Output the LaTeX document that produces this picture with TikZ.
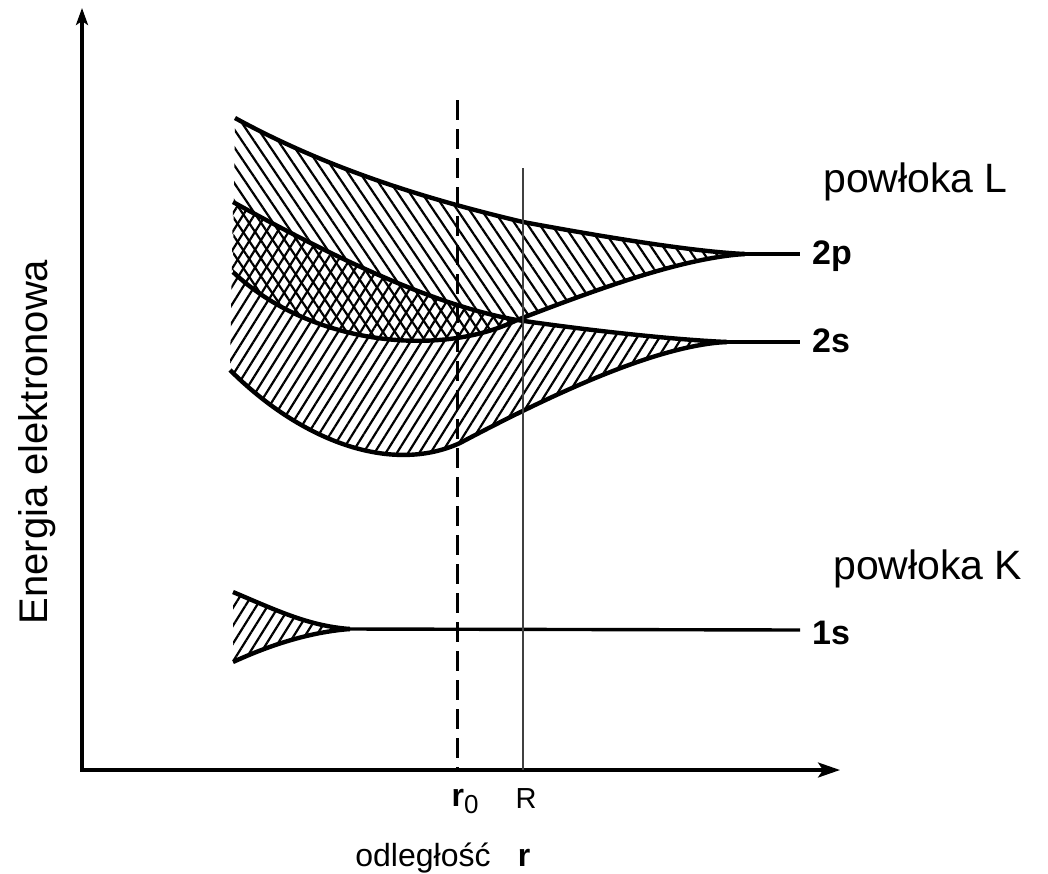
\documentclass[tikz,border=0pt]{standalone}
\usepackage{fontspec}
\setmainfont{Liberation Sans}
\usetikzlibrary{arrows.meta, patterns.meta}

\begin{document}
\begin{tikzpicture}[
  x=1pt, y=-1pt,
  axis/.style     = {line width=3.2pt, black},
  band/.style     = {line width=4.4pt, black, line join=round},
  orbline/.style  = {line width=3.4pt, black},
  hatchdown/.style= {pattern={Lines[angle=-56, distance=10pt, line width=2.2pt]}},
  hatchup/.style  = {pattern={Lines[angle=58, distance=9.5pt, line width=2.2pt]}},
  rzline/.style   = {line width=3pt, dash pattern=on 20pt off 9pt},
  rline/.style    = {line width=1.5pt, black!75},
  lbl/.style      = {font=\fontsize{41}{44}\selectfont, inner sep=0pt},
  orb/.style      = {font=\fontsize{34}{36}\selectfont\bfseries, inner sep=0pt},
  tick/.style     = {font=\fontsize{32}{34}\selectfont, inner sep=0pt}
]
\useasboundingbox (0,0) rectangle (1048,873);

% ── Axes ─────────────────────────────────────────────────────────────────────
\coordinate (O)    at (82,770);
\coordinate (ytip) at (82,8);
\coordinate (xtip) at (840,770);
\draw[axis, {Stealth[length=22pt,width=15pt,inset=5pt]}-{Stealth[length=17pt,width=12pt,inset=4pt]}]
  (xtip) -- (O) -- (ytip);

% ── Band 2p (upper) ──────────────────────────────────────────────────────────
\fill[hatchdown] (235,118) .. controls (330,170) and (430,200) .. (523,222)
  .. controls (620,240) and (700,252) .. (745,254)
  .. controls (680,258) and (590,292) .. (517,320)
  .. controls (440,358) and (310,345) .. (233,272) -- cycle;

% ── Band 2s (lower) ──────────────────────────────────────────────────────────
\fill[hatchup] (233,202) .. controls (320,250) and (430,305) .. (517,320)
  .. controls (600,332) and (680,340) .. (727,342)
  .. controls (660,345) and (560,390) .. (460,443)
  .. controls (390,475) and (300,440) .. (230,370) -- cycle;

% ── Band 1s ──────────────────────────────────────────────────────────────────
\fill[hatchup] (233,592) .. controls (280,612) and (310,626) .. (350,629)
  .. controls (310,632) and (270,645) .. (233,662) -- cycle;

% ── Band edges ───────────────────────────────────────────────────────────────
\draw[band] (235,118) .. controls (330,170) and (430,200) .. (523,222)
  .. controls (620,240) and (700,252) .. (745,254);
\draw[band] (233,202) .. controls (320,250) and (430,305) .. (517,320)
  .. controls (600,332) and (680,340) .. (727,342);
\draw[band] (233,272) .. controls (310,345) and (440,358) .. (517,320)
  .. controls (590,292) and (680,258) .. (745,254);
\draw[band] (230,370) .. controls (300,440) and (390,475) .. (460,443)
  .. controls (560,390) and (660,345) .. (727,342);
\draw[band] (233,592) .. controls (280,612) and (310,626) .. (350,629);
\draw[band] (233,662) .. controls (270,645) and (310,632) .. (350,629);

% ── Levels of the free atom ──────────────────────────────────────────────────
\coordinate (p2end) at (800,254);
\coordinate (s2end) at (800,342);
\coordinate (s1end) at (800,630);
\draw[orbline] (745,254) -- (p2end);
\draw[orbline] (727,342) -- (s2end);
\draw[orbline] (350,629) -- (s1end);

% ── r0 and R ─────────────────────────────────────────────────────────────────
\coordinate (rztop) at (457,100);
\coordinate (rtop)  at (523,168);
\draw[rzline] (rztop) -- (rztop |- O);
\draw[rline]  (rtop)  -- (rtop |- O);

% ── Labels ───────────────────────────────────────────────────────────────────
\node[lbl, rotate=90, anchor=base, font=\fontsize{40}{42}\selectfont] (energy) at (47,442) {Energia elektronowa};
\node[lbl, anchor=base west] (shellL) at (823,192) {powłoka L};
\node[lbl, anchor=base west] (shellK) at (833,579) {powłoka K};
\node[orb, anchor=base west] (p2) at (812,264) {2p};
\node[orb, anchor=base west] (s2) at (812,352) {2s};
\node[orb, anchor=base west] (s1) at (812,644) {1s};
\node[tick, anchor=base] (rzero) at (465,806)
  {{\bfseries r}\raisebox{-7pt}{\fontsize{26}{27}\selectfont 0}};
\node[tick, anchor=base, font=\fontsize{29}{32}\selectfont] (Rlbl) at (526,808) {R};
\node[tick, anchor=base] (dist) at (423,866) {odległość};
\node[tick, anchor=base] (rvar) at (524,866) {\bfseries r};
\end{tikzpicture}
\end{document}
